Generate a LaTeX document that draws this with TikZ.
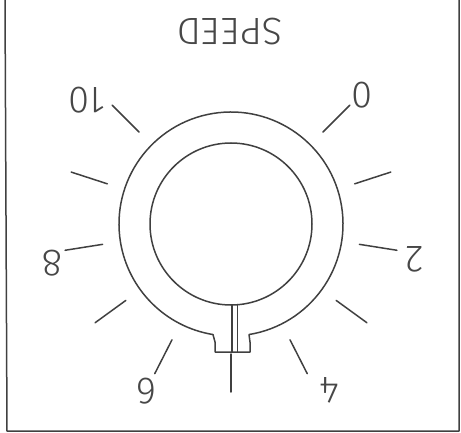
\documentclass[tikz,border=0pt]{standalone}
\usepackage{fontspec}
\usetikzlibrary{calc}
\setmainfont{Fira Sans}[UprightFont=* Light]
\begin{document}
\begin{tikzpicture}[x=1pt,y=1pt,
  ink/.style={draw=black!75, line width=1.5pt, line cap=round, line join=round},
  lbl/.style={rotate=180, text=black!72, font=\fontsize{38}{38}\selectfont, inner sep=0pt}]
\useasboundingbox (0,0) rectangle (461,432);
% frame (open at the top)
\coordinate (ftl) at (5,432);
\coordinate (fbl) at (7,1);
\coordinate (fbr) at (459,1);
\coordinate (ftr) at (459,432);
\draw[ink, line cap=butt] (ftl) -- (fbl) -- (fbr) -- (ftr);
% dial centre
\coordinate (c) at (231,208);
% outer ring with notch
\draw[ink] ($(c)+(-80.75:112)$) arc[start angle=-80.75, end angle=260.75, radius=112]
   -- (215,90) -- (215,80) -- (250,80) -- (250,90) -- cycle;
% inner circle
\draw[ink] (c) circle[radius=81];
% pointer
\coordinate (p1t) at (232,127.2);
\coordinate (p1b) at (232,80);
\coordinate (p2t) at (237.3,127.5);
\coordinate (p2b) at (237.3,80);
\draw[ink] (p1t) -- (p1b);
\draw[ink] (p2t) -- (p2b);
% scale ticks
\foreach \k in {0,...,10}{
  \pgfmathsetmacro\a{45-27*\k}
  \draw[ink] ($(c)+(\a:130)$) -- ($(c)+(\a:168)$);
}
% labels
\node[lbl] (speed) at (230,400) {SPEED};
\node[lbl] (l0)  at (362,337) {0};
\node[lbl] (l2)  at (414,173) {2};
\node[lbl] (l4)  at (330,42)  {4};
\node[lbl] (l6)  at (147,41)  {6};
\node[lbl] (l8)  at (52,169)  {8};
\node[lbl] (l10) at (87,332)  {10};
\end{tikzpicture}
\end{document}
